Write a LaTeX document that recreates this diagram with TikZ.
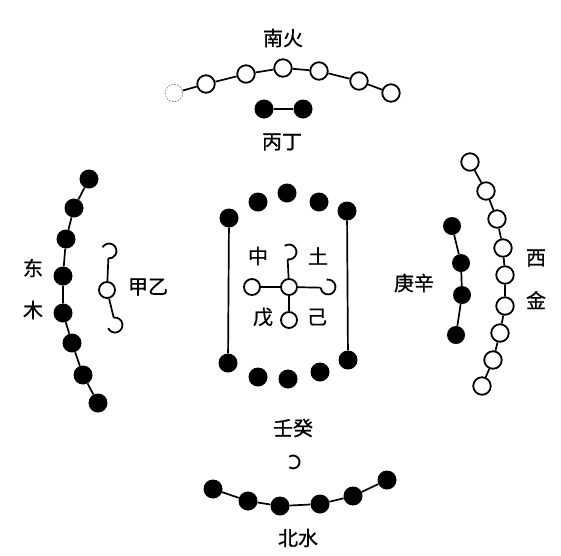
\documentclass[tikz,border=0pt]{standalone}
\usepackage{fontspec}
\newfontfamily\cjk[BoldFont={Noto Sans CJK SC},BoldFeatures={FakeBold=0.8}]{Noto Sans CJK SC}
\begin{document}
\begin{tikzpicture}[x=1pt,y=-1pt,
  oc/.style={circle,draw=black,line width=1.8pt,fill=white,minimum size=17.5pt,inner sep=0pt},
  fc/.style={circle,fill=black,minimum size=19pt,inner sep=0pt},
  fcs/.style={circle,fill=black,minimum size=18pt,inner sep=0pt},
  lk/.style={line width=1.7pt},
  hc/.style={line width=1.8pt},
  lab/.style={font=\cjk\bfseries\fontsize{20}{20}\selectfont,inner sep=0pt}]
\useasboundingbox (0,0) rectangle (561,555);
% South
\node[lab] (tS) at (283,38) {南火};
\node[oc,draw=gray,dash pattern=on 1.5pt off 1.5pt,line width=0.8pt] (s1) at (174,93) {};
\node[oc] (s2) at (206,84) {};
\node[oc] (s3) at (246,74) {};
\node[oc] (s4) at (283,68) {};
\node[oc] (s5) at (319,71) {};
\node[oc] (s6) at (359,81) {};
\node[oc] (s7) at (391,93) {};
\draw[lk] (s1)--(s2)--(s3)--(s4)--(s5)--(s6)--(s7);
\node[fc] (b1) at (264,109) {};
\node[fc] (b2) at (303,109) {};
\draw[lk] (b1)--(b2);
\node[lab] (tB) at (282,142) {丙丁};
% East
\node[fc] (e1) at (89,179) {};
\node[fc] (e2) at (74,208) {};
\node[fc] (e3) at (66,239) {};
\node[fc] (e4) at (63,276) {};
\node[fc] (e5) at (63,313) {};
\node[fc] (e6) at (72,343) {};
\node[fc] (e7) at (83,375) {};
\node[fc] (e8) at (98,403) {};
\draw[lk] (e1)--(e2)--(e3)--(e4)--(e5)--(e6)--(e7)--(e8);
\node[lab] (tE1) at (33,268) {东};
\node[lab] (tE2) at (33,310) {木};
\coordinate (j1) at (109,251);
\node[oc,minimum size=16pt] (j2) at (107,290) {};
\coordinate (j3) at (115,325);
\draw[hc] ([shift={(-150:7.5)}]j1) arc[start angle=-150,end angle=95,radius=7.5];
\draw[hc] ([shift={(-100:7.5)}]j3) arc[start angle=-100,end angle=155,radius=7.5];
\draw[lk] ([shift={(95:7.5)}]j1)--(j2);
\draw[lk] (j2)--([shift={(-100:7.5)}]j3);
\node[lab] (tJ) at (148,287) {甲乙};
% West
\node[oc] (w1) at (470,162) {};
\node[oc] (w2) at (486,191) {};
\node[oc] (w3) at (497,219) {};
\node[oc] (w4) at (503,248) {};
\node[oc] (w5) at (505,275) {};
\node[oc] (w6) at (505,306) {};
\node[oc] (w7) at (500,333) {};
\node[oc] (w8) at (493,360) {};
\node[oc] (w9) at (482,386) {};
\draw[lk] (w1)--(w2)--(w3)--(w4)--(w5)--(w6)--(w7)--(w8)--(w9);
\node[fcs] (g1) at (452,226) {};
\node[fcs] (g2) at (461,263) {};
\node[fcs] (g3) at (462,295) {};
\node[fcs] (g4) at (456,335) {};
\draw[lk] (g1)--(g2)--(g3)--(g4);
\node[lab] (tW1) at (536,258) {西};
\node[lab] (tW2) at (536,300) {金};
\node[lab] (tG) at (414,283) {庚辛};
% Center
\node[fc] (c1) at (229,218) {};
\node[fc] (c2) at (258,202) {};
\node[fc] (c3) at (287,193) {};
\node[fc] (c4) at (319,202) {};
\node[fc] (c5) at (347,211) {};
\node[fc] (d1) at (228,363) {};
\node[fc] (d2) at (258,377) {};
\node[fc] (d3) at (288,379) {};
\node[fc] (d4) at (320,372) {};
\node[fc] (d5) at (348,360) {};
\draw[lk] (c1)--(d1);
\draw[lk] (c5)--(d5);
\node[oc,minimum size=16pt] (m0) at (289,287) {};
\node[oc,minimum size=16pt] (mL) at (252,287) {};
\node[oc,minimum size=16pt] (mB) at (289,320) {};
\coordinate (mT) at (289,252);
\coordinate (mR) at (328,287);
\draw[hc] ([shift={(-125:7.5)}]mT) arc[start angle=-125,end angle=100,radius=7.5];
\draw[hc] ([shift={(-100:7.5)}]mR) arc[start angle=-100,end angle=175,radius=7.5];
\draw[lk] (m0)--(mL);
\draw[lk] (m0)--(mB);
\draw[lk] (m0)--([shift={(100:7.5)}]mT);
\draw[lk] (m0)--([shift={(175:7.5)}]mR);
\node[lab] (t1) at (258,256) {中};
\node[lab] (t2) at (318,256) {土};
\node[lab] (t3) at (263,317) {戊};
\node[lab] (t4) at (317,317) {己};
% North
\node[lab] (tR) at (293,428) {壬癸};
\coordinate (r0) at (293,462);
\draw[hc] ([shift={(-125:6.5)}]r0) arc[start angle=-125,end angle=125,radius=6.5];
\node[fc] (n1) at (213,489) {};
\node[fc] (n2) at (248,501) {};
\node[fc] (n3) at (280,506) {};
\node[fc] (n4) at (320,504) {};
\node[fc] (n5) at (353,496) {};
\node[fc] (n6) at (387,480) {};
\draw[lk] (n1)--(n2)--(n3)--(n4)--(n5)--(n6);
\node[lab] (tN) at (298,538) {北水};
\end{tikzpicture}
\end{document}
